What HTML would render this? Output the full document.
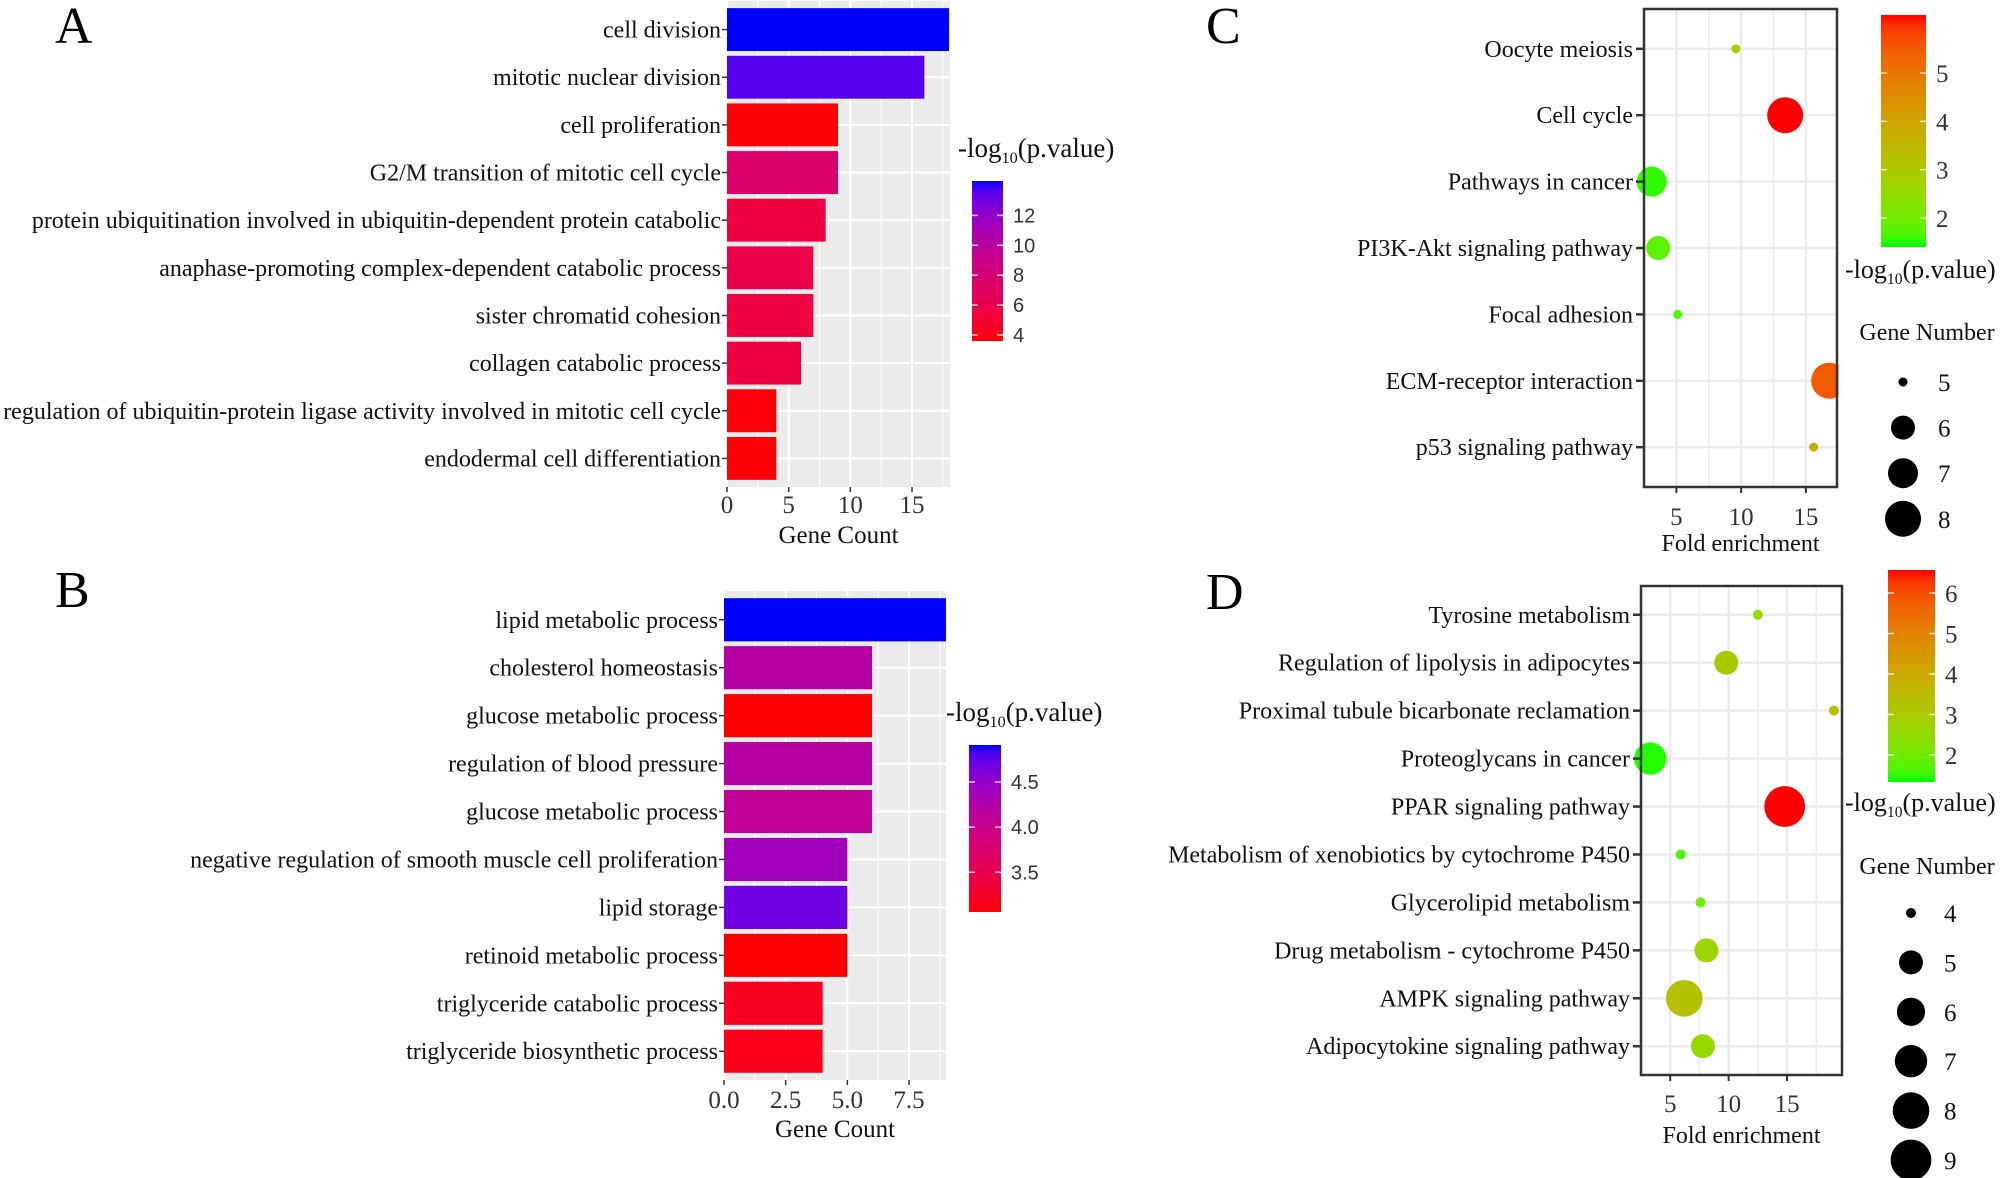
<!DOCTYPE html>
<html><head><meta charset="utf-8"><style>
html,body{margin:0;padding:0;background:#fff;}
svg{display:block;font-family:"Liberation Serif",serif;}
</style></head><body>
<svg id="fig" width="2008" height="1178" viewBox="0 0 2008 1178" xmlns="http://www.w3.org/2000/svg">
<defs id="defs"></defs>
<text x="55" y="43" font-size="52">A</text>
<text x="55" y="607" font-size="52">B</text>
<text x="1206" y="43" font-size="52">C</text>
<text x="1206" y="609" font-size="52">D</text>
<g id="gA"></g>
<g id="gB"></g>
<g id="gC"></g>
<g id="gD"></g>
</svg>
<script>
// ---- Panel A data ----
const catsA = ["cell division","mitotic nuclear division","cell proliferation","G2/M transition of mitotic cell cycle","protein ubiquitination involved in ubiquitin-dependent protein catabolic","anaphase-promoting complex-dependent catabolic process","sister chromatid cohesion","collagen catabolic process","regulation of ubiquitin-protein ligase activity involved in mitotic cell cycle","endodermal cell differentiation"];
const countsA = [18,16,9,9,8,7,7,6,4,4];
const pvalsA = [14.3,13.6,3.7,7.5,5.5,6,5.6,5.6,3.8,3.7];
const ticksA = [0,5,10,15];
const legTicksA = [4,6,8,10,12];
const legLabA = ["4","6","8","10","12"];
// ---- Panel B data ----
const catsB = ["lipid metabolic process","cholesterol homeostasis","glucose metabolic process","regulation of blood pressure","glucose metabolic process","negative regulation of smooth muscle cell proliferation","lipid storage","retinoid metabolic process","triglyceride catabolic process","triglyceride biosynthetic process"];
const countsB = [9,6,6,6,6,5,5,5,4,4];
const pvalsB = [4.91,4.2,3.06,4.2,4.1,4.4,4.7,3.06,3.2,3.15];
const ticksB = [0,2.5,5,7.5];
const tickLabB = ["0.0","2.5","5.0","7.5"];
const legTicksB = [3.5,4.0,4.5];
const legLabB = ["3.5","4.0","4.5"];
// ---- Panel C data ----
const catsC = ["Oocyte meiosis","Cell cycle","Pathways in cancer","PI3K-Akt signaling pathway","Focal adhesion","ECM-receptor interaction","p53 signaling pathway"];
const foldC = [9.6,13.4,3.1,3.6,5.1,16.8,15.6];
const genesC = [5,8,7,6,5,8,5];
const pvalsC = [2.8,6.2,1.5,1.8,1.7,5.5,3.8];
const ticksC = [5,10,15];
const legTicksC = [2,3,4,5];
const legLabC = ["2","3","4","5"];
const sizeLegC = [5,6,7,8];
// ---- Panel D data ----
const catsD = ["Tyrosine metabolism","Regulation of lipolysis in adipocytes","Proximal tubule bicarbonate reclamation","Proteoglycans in cancer","PPAR signaling pathway","Metabolism of xenobiotics by cytochrome P450","Glycerolipid metabolism","Drug metabolism - cytochrome P450","AMPK signaling pathway","Adipocytokine signaling pathway"];
const foldD = [12.5,9.8,19.0,3.3,14.8,5.9,7.6,8.1,6.2,7.8];
const genesD = [4,5,4,7,9,4,4,5,8,5];
const pvalsD = [2.5,3.0,3.4,1.4,7.2,1.6,2.0,2.7,3.3,2.6];
const ticksD = [5,10,15];
const legTicksD = [2,3,4,5,6];
const legLabD = ["2","3","4","5","6"];
const sizeLegD = [4,5,6,7,8,9];

const NS="http://www.w3.org/2000/svg";
function mk(parent,tag,attrs,txt){const e=document.createElementNS(NS,tag);for(const k in attrs)e.setAttribute(k,attrs[k]);if(txt!==undefined)e.textContent=txt;parent.appendChild(e);return e;}
function s2l(c){c/=255;return c<=0.04045?c/12.92:Math.pow((c+0.055)/1.055,2.4);}
function l2s(c){c=c<=0.0031308?12.92*c:1.055*Math.pow(c,1/2.4)-0.055;return Math.max(0,Math.min(255,Math.round(c*255)));}
function toLab(rgb){const r=s2l(rgb[0]),g=s2l(rgb[1]),b=s2l(rgb[2]);let x=(0.4124*r+0.3576*g+0.1805*b)/0.95047,y=0.2126*r+0.7152*g+0.0722*b,z=(0.0193*r+0.1192*g+0.9505*b)/1.08883;const f=t=>t>0.008856?Math.cbrt(t):7.787*t+16/116;x=f(x);y=f(y);z=f(z);return[116*y-16,500*(x-y),200*(y-z)];}
function fromLab(l){let y=(l[0]+16)/116,x=l[1]/500+y,z=y-l[2]/200;const fi=t=>t*t*t>0.008856?t*t*t:(t-16/116)/7.787;x=fi(x)*0.95047;y=fi(y);z=fi(z)*1.08883;const r=3.2406*x-1.5372*y-0.4986*z,g=-0.9689*x+1.8758*y+0.0415*z,b=0.0557*x-0.2040*y+1.0570*z;return"rgb("+l2s(r)+","+l2s(g)+","+l2s(b)+")";}
function grad(lo,hi,min,max){const a=toLab(lo),b=toLab(hi);return v=>{let t=(v-min)/(max-min);t=Math.max(0,Math.min(1,t));return fromLab([a[0]+(b[0]-a[0])*t,a[1]+(b[1]-a[1])*t,a[2]+(b[2]-a[2])*t]);};}
let gid=0;
function colorbar(g,col,min,max,x,y0,y1,w,ticks,labs,sans,fs){
  const id="cb"+(gid++);const defs=document.getElementById('defs');
  const lg=mk(defs,'linearGradient',{id:id,x1:0,y1:1,x2:0,y2:0});
  for(let i=0;i<=20;i++)mk(lg,'stop',{offset:(i/20),'stop-color':col(min+(max-min)*i/20)});
  const r=mk(g,'rect',{x:x,y:y0,width:w,height:y1-y0,fill:"url(#"+id+")"});
  
  
  ticks.forEach((t,i)=>{const yy=y1-(t-min)/(max-min)*(y1-y0);
    mk(g,'line',{x1:x,x2:x+6,y1:yy,y2:yy,stroke:"#fff","stroke-width":1.5,opacity:0.8});
    mk(g,'line',{x1:x+w-6,x2:x+w,y1:yy,y2:yy,stroke:"#fff","stroke-width":1.5,opacity:0.8});
    const tx=mk(g,'text',{x:x+w+10,y:yy+(sans?7:9),"font-size":fs,fill:"#333","font-family":sans?'"Liberation Sans",sans-serif':'"Liberation Serif",serif'},labs[i]);
    
    
  });
}
function logTitle(g,x,y,fs){
  const t=mk(g,'text',{x:x,y:y,"font-size":fs,fill:"#111"});
  
  
  mk(t,'tspan',{},"-log");mk(t,'tspan',{"font-size":fs*0.6,dy:6},"10");mk(t,'tspan',{dy:-6},"(p.value)");
}
function barPanel(g,cats,counts,pvals,ticks,tlab,opt){
  const {x0,x1,max,top,bot,col}=opt;
  const xs=v=>x0+(v/max)*(x1-x0);
  const n=cats.length,step=(bot-top)/(n+0.2);
  const yc=i=>top+step*(0.6+i);
  const bg=mk(g,'rect',{x:x0,y:top,width:x1-x0,height:bot-top,fill:"#ebebeb"});
  
  
  for(let i=0;i<ticks.length;i++){const m=(i<ticks.length-1?(ticks[i]+ticks[i+1])/2:ticks[i]+(ticks[1]-ticks[0])/2);
    if(m<=max)mk(g,'line',{x1:xs(m),x2:xs(m),y1:top,y2:bot,stroke:"#fff","stroke-width":1});}
  ticks.forEach(t=>mk(g,'line',{x1:xs(t),x2:xs(t),y1:top,y2:bot,stroke:"#fff","stroke-width":2}));
  cats.forEach((c,i)=>mk(g,'line',{x1:x0,x2:x1,y1:yc(i),y2:yc(i),stroke:"#fff","stroke-width":2}));
  cats.forEach((c,i)=>{
    const b=mk(g,'rect',{x:x0,y:yc(i)-step*0.45,width:xs(counts[i])-x0,height:step*0.9,fill:col(pvals[i])});
    
    
    mk(g,'line',{x1:x0-5,x2:x0,y1:yc(i),y2:yc(i),stroke:"#333","stroke-width":1.5});
    const t=mk(g,'text',{x:x0-6,y:yc(i)+8,"font-size":opt.lfs,"text-anchor":"end",fill:"#111"},c);
    
    
  });
  ticks.forEach((t,i)=>{mk(g,'line',{x1:xs(t),x2:xs(t),y1:bot,y2:bot+5,stroke:"#333","stroke-width":1.5});
    const tx=mk(g,'text',{x:xs(t),y:bot+opt.tickDy,"font-size":25,"text-anchor":"middle",fill:"#333"},tlab[i]);
    
    });
  const ti=mk(g,'text',{x:(x0+x1)/2,y:bot+opt.titleDy,"font-size":25,"text-anchor":"middle",fill:"#111"},"Gene Count");
  
  
}
function dotPanel(g,cats,fold,genes,pvals,ticks,opt){
  const {fx0,fx1,px0,px1,top,bot,col,rad}=opt;
  const xs=v=>px0+(v-fx0)/(fx1-fx0)*(px1-px0);
  const n=cats.length,step=(bot-top)/(n+0.2);
  const yc=i=>top+step*(0.6+i);
  mk(g,'rect',{x:px0,y:top,width:px1-px0,height:bot-top,fill:"#fff"});
  for(let v=Math.ceil(fx0/2.5)*2.5;v<=fx1;v+=2.5)mk(g,'line',{x1:xs(v),x2:xs(v),y1:top,y2:bot,stroke:"#ebebeb","stroke-width":v%5===0?2.5:1.5});
  cats.forEach((c,i)=>mk(g,'line',{x1:px0,x2:px1,y1:yc(i),y2:yc(i),stroke:"#ebebeb","stroke-width":2.5}));
  cats.forEach((c,i)=>{
    const d=mk(g,'circle',{cx:xs(fold[i]),cy:yc(i),r:rad(genes[i]),fill:col(pvals[i])});
    
    
    mk(g,'line',{x1:px0-8,x2:px0,y1:yc(i),y2:yc(i),stroke:"#333","stroke-width":2.5});
    const t=mk(g,'text',{x:px0-11,y:yc(i)+8,"font-size":24,"text-anchor":"end",fill:"#111"},c);
    
    
  });
  mk(g,'rect',{x:px1+1.5,y:top-30,width:40,height:bot-top+60,fill:"#fff"});
  mk(g,'rect',{x:px0,y:top,width:px1-px0,height:bot-top,fill:"none",stroke:"#333","stroke-width":2.5});
  ticks.forEach(t=>{mk(g,'line',{x1:xs(t),x2:xs(t),y1:bot,y2:bot+6,stroke:"#333","stroke-width":2});
    const tx=mk(g,'text',{x:xs(t),y:bot+opt.tickDy,"font-size":25,"text-anchor":"middle",fill:"#333"},String(t));
    
    });
  const ti=mk(g,'text',{x:(px0+px1)/2,y:bot+opt.titleDy,"font-size":24,"text-anchor":"middle",fill:"#111"},"Fold enrichment");
  
  
}
function sizeLegend(g,vals,rad,x,y0,step,lx,titleX,titleY){
  const t=mk(g,'text',{x:titleX,y:titleY,"font-size":24,"text-anchor":"middle",fill:"#111"},"Gene Number");
  
  
  vals.forEach((v,i)=>{const c=mk(g,'circle',{cx:x,cy:y0+i*step,r:rad(v),fill:"#000"});
    
    
    const tx=mk(g,'text',{x:lx,y:y0+i*step+9,"font-size":25,fill:"#111"},String(v));
    
    });
}
const RB=[255,0,0],BL=[0,0,255],GR=[0,255,0];
// Panel A
const colA=grad(RB,BL,3.6,14.3);
barPanel(document.getElementById('gA'),catsA,countsA,pvalsA,ticksA,ticksA.map(String),{x0:727,x1:950,max:18.08,top:1,bot:487,col:colA,lfs:24,tickDy:26,titleDy:56});
logTitle(document.getElementById('gA'),958,157,27);
colorbar(document.getElementById('gA'),colA,3.6,14.3,972,181,341,31,legTicksA,legLabA,true,20);
// Panel B
const colB=grad(RB,BL,3.06,4.91);
barPanel(document.getElementById('gB'),catsB,countsB,pvalsB,ticksB,tickLabB,{x0:724,x1:946,max:9.0,top:591,bot:1080,col:colB,lfs:24,tickDy:28,titleDy:57});
logTitle(document.getElementById('gB'),946,721,27);
colorbar(document.getElementById('gB'),colB,3.06,4.91,969,745,912,32,legTicksB,legLabB,true,20);
// Panel C
const colC=grad(GR,RB,1.4,6.2);
const radC=n=>n<=5?4.5:12+(n-6)*3;
dotPanel(document.getElementById('gC'),catsC,foldC,genesC,pvalsC,ticksC,{fx0:2.5,fx1:17.4,px0:1644,px1:1837,top:9,bot:487,col:colC,rad:radC,tickDy:38,titleDy:64});
colorbar(document.getElementById('gC'),colC,1.4,6.2,1881,15,247,45,legTicksC,legLabC,false,25);
logTitle(document.getElementById('gC'),1845,278,26);
sizeLegend(document.getElementById('gC'),sizeLegC,radC,1903,382,45.6,1938,1927,340);
// Panel D
const colD=grad(GR,RB,1.33,6.57);
const radD=n=>n<=4?5:12+(n-5)*2.1;
dotPanel(document.getElementById('gD'),catsD,foldD,genesD,pvalsD,ticksD,{fx0:2.5,fx1:19.7,px0:1641,px1:1842,top:586,bot:1075,col:colD,rad:radD,tickDy:37,titleDy:68});
colorbar(document.getElementById('gD'),colD,1.33,6.57,1888,570,782,47,legTicksD,legLabD,false,25);
logTitle(document.getElementById('gD'),1845,811,26);
sizeLegend(document.getElementById('gD'),sizeLegD,radD,1911,913,49.4,1944,1927,874);
</script>
</body></html>
